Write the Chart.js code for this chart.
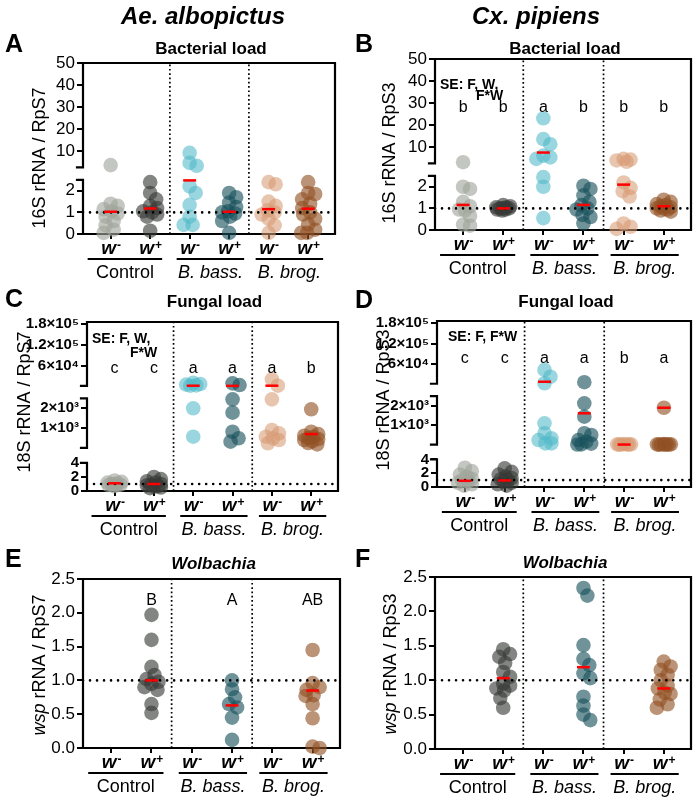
<!DOCTYPE html>
<html>
<head>
<meta charset="utf-8">
<title>Bacterial, fungal and Wolbachia loads</title>
<script src="https://cdn.jsdelivr.net/npm/chart.js"></script>
<style>
  html, body { margin: 0; padding: 0; background: #fff; }
  #fig { position: relative; width: 700px; height: 802px; overflow: hidden; }
  #fig canvas { position: absolute; }
</style>
</head>
<body>
<div id="fig"></div>
<script>
// ---- values ----
const groups = ['Control', 'B. bass.', 'B. brog.'];
const wSign = ['-', '+', '-', '+', '-', '+'];

// A: Ae. albopictus, 16S rRNA / RpS7 (order: Control w-, w+, B. bass w-, w+, B. brog w-, w+)
const bactAe = [
  [3.5, 1.4, 1.3, 1.15, 1.05, 0.95, 0.8, 0.6, 0.4, 0.2, 0.05],
  [2.4, 1.9, 1.6, 1.3, 1.2, 1.05, 1.0, 0.9, 0.8, 0.15],
  [9.1, 4.5, 3.2, 2.2, 1.9, 1.35, 0.8, 0.42, 0.42],
  [1.9, 1.7, 1.45, 1.25, 1.05, 1.0, 0.95, 0.8, 0.6, 0.05],
  [2.4, 2.3, 1.5, 1.3, 1.1, 1.0, 0.9, 0.7, 0.4, 0.05],
  [2.4, 1.9, 1.85, 1.6, 1.4, 1.2, 1.0, 0.9, 0.7, 0.45, 0.2, 0.05, 0.05]
];
const bactAeMean = [1.03, 1.18, 2.48, 1.03, 1.15, 1.17];

// B: Cx. pipiens, 16S rRNA / RpS3
const bactCx = [
  [3.0, 2.0, 1.9, 1.3, 1.1, 0.95, 0.9, 0.65, 0.25, 0.2],
  [1.15, 1.1, 1.05, 1.05, 1.0, 1.0, 1.0, 0.95, 0.95, 0.9],
  [23, 13.5, 11.2, 6, 5.2, 4.5, 2.45, 2.0, 0.55],
  [2.05, 1.9, 1.6, 1.3, 1.15, 1.0, 0.95, 0.7, 0.6, 0.3],
  [4.5, 4.2, 3.8, 3.2, 2.2, 1.95, 1.8, 1.55, 0.3, 0.15, 0.05],
  [1.4, 1.3, 1.2, 1.15, 1.1, 1.05, 1.0, 1.0, 0.95, 0.9, 0.85]
];
const bactCxMean = [1.16, 1.0, 7.4, 1.16, 2.1, 1.1];
const bactCxLetters = ['b', 'b', 'a', 'b', 'b', 'b'];

// C: Ae. albopictus, 18S rRNA / RpS7
const fungAe = [
  [1.5, 1.3, 1.2, 1.1, 1.0, 1.0, 0.9, 0.85, 0.8, 0.7],
  [2.0, 1.7, 1.4, 1.2, 1.0, 0.9, 0.8, 0.7, 0.6, 0.5, 0.4],
  [11000, 8000, 6000, 4000, 3000, 2000, 570],
  [9800, 4900, 2450, 1780, 820, 490, 320],
  [21400, 3000, 2450, 910, 740, 570, 485, 400, 235],
  [1950, 820, 700, 620, 560, 500, 450, 400, 330, 250, 180]
];
const fungAeMean = [1.1, 1.0, 3000, 2600, 3000, 700];
const fungAeLetters = ['c', 'c', 'a', 'a', 'a', 'b'];

// D: Cx. pipiens, 18S rRNA / RpS3
const fungCx = [
  [2.8, 2.3, 1.8, 1.5, 1.2, 1.0, 0.8, 0.6, 0.4, 0.2],
  [2.7, 2.2, 1.8, 1.5, 1.3, 1.1, 1.0, 0.8, 0.6, 0.4, 0.2],
  [43000, 23000, 4000, 1100, 590, 330, 240, 70, 70],
  [7000, 2125, 1440, 590, 500, 240, 160, 60, 20, 10],
  [30, 25, 20, 15, 10, 8, 6],
  [1900, 30, 25, 20, 15, 10, 8, 6, 5]
];
const fungCxMean = [0.9, 0.95, 8300, 1614, 10, 1900];
const fungCxLetters = ['c', 'c', 'a', 'a', 'b', 'a'];

// E: Ae. albopictus, wsp rRNA / RpS7
const wolAe = [
  [],
  [1.97, 1.6, 1.2, 1.08, 1.02, 0.98, 0.95, 0.9, 0.86, 0.65, 0.52],
  [],
  [1.0, 0.87, 0.75, 0.65, 0.6, 0.45, 0.12],
  [],
  [1.45, 0.96, 0.9, 0.86, 0.78, 0.77, 0.65, 0.44, 0.02, 0.0]
];
const wolAeMean = [null, 1.0, null, 0.63, null, 0.85];
const wolAeLetters = ['', 'B', '', 'A', '', 'AB'];

// F: Cx. pipiens, wsp rRNA / RpS3
const wolCx = [
  [],
  [1.45, 1.38, 1.34, 1.25, 1.12, 1.05, 0.95, 0.92, 0.88, 0.85, 0.74, 0.6],
  [],
  [2.34, 2.23, 1.51, 1.31, 1.22, 1.1, 1.03, 0.76, 0.63, 0.5, 0.42],
  [],
  [1.27, 1.2, 1.15, 1.08, 1.0, 0.92, 0.88, 0.82, 0.8, 0.72, 0.65, 0.6]
];
const wolCxMean = [null, 1.03, null, 1.19, null, 0.88];

// tick values / labels
const bactTicks = [0, 1, 2, 10, 20, 30, 40, 50];
const fungTicks = [0, 2, 4, 1000, 2000, 60000, 120000, 180000];
const fungTickLabels = ['0', '2', '4', '1×10³', '2×10³', '6×10⁴', '1.2×10⁵', '1.8×10⁵'];

// ---- look ----
const FF = "'Liberation Sans', Arial, sans-serif";
Chart.defaults.font.family = FF;
Chart.defaults.color = '#000';

const fills = [
  'rgba(160,165,155,0.62)', 'rgba(55,58,55,0.62)',
  'rgba(80,185,200,0.58)', 'rgba(25,80,92,0.62)',
  'rgba(215,155,115,0.58)', 'rgba(145,80,35,0.62)'
];

// broken y axes: value ranges and where they sit (fraction of plot height)
const SEGS = {
  bact: [{ min: 0, max: 2.5, from: 0, to: 0.316 }, { min: 2.5, max: 50, from: 0.39, to: 1 }],
  fung: [{ min: 0, max: 4, from: 0, to: 0.166 }, { min: 4, max: 2500, from: 0.255, to: 0.548 },
         { min: 2500, max: 180000, from: 0.622, to: 0.988 }]
};
const TICKS = { bact: bactTicks, fung: fungTicks };

function segFrac(v, segs) {
  const s = segs.find(s => v <= s.max) || segs[segs.length - 1];
  return s.from + (v - s.min) / (s.max - s.min) * (s.to - s.from);
}

class BrokenScale extends Chart.LinearScale {
  static id = 'broken';
  static defaults = {};
  buildTicks() {
    return TICKS[this.options.segKey].map(value => ({ value }));
  }
  getPixelForValue(value) {
    return this.bottom - segFrac(value, SEGS[this.options.segKey]) * (this.bottom - this.top);
  }
  getValueForPixel() { return 0; }
}
Chart.register(BrokenScale);

const XMIN = 0.3, XMAX = 6.68;

const panels = [
  { key: 'A', box: [0, 0, 350, 292], area: { l: 83, r: 335, t: 63, b: 234 }, axis: 'bact',
    pts: bactAe, mean: bactAeMean, letters: null, lettersY: 0,
    title: 'Bacterial load', titleY: 54, yLab: ['', '16S rRNA / RpS7'], yLabAt: [40, 158],
    head: ['Ae. albopictus', 203], letterAt: [5, 52], se: [] },
  { key: 'B', box: [350, 0, 350, 292], area: { l: 435, r: 693, t: 59, b: 230 }, axis: 'bact',
    pts: bactCx, mean: bactCxMean, letters: bactCxLetters, lettersY: 112,
    title: 'Bacterial load', titleY: 54, yLab: ['', '16S rRNA / RpS3'], yLabAt: [390, 153],
    head: ['Cx. pipiens', 536], letterAt: [355, 52], se: [['SE: F, W,', 440, 89], ['F*W', 476, 100]] },
  { key: 'C', box: [0, 280, 350, 262], area: { l: 87, r: 338, t: 322, b: 491 }, axis: 'fung',
    pts: fungAe, mean: fungAeMean, letters: fungAeLetters, lettersY: 373,
    title: 'Fungal load', titleY: 307, yLab: ['', '18S rRNA / RpS7'], yLabAt: [25, 402],
    head: null, letterAt: [5, 307], se: [['SE: F, W,', 92, 343], ['F*W', 130, 357]] },
  { key: 'D', box: [350, 280, 350, 262], area: { l: 437, r: 693, t: 321, b: 487 }, axis: 'fung',
    pts: fungCx, mean: fungCxMean, letters: fungCxLetters, lettersY: 363,
    title: 'Fungal load', titleY: 307, yLab: ['', '18S rRNA / RpS3'], yLabAt: [384, 400],
    head: null, letterAt: [355, 308], se: [['SE: F, F*W', 448, 341]] },
  { key: 'E', box: [0, 538, 350, 264], area: { l: 83, r: 340, t: 579, b: 748 }, axis: 'wol',
    pts: wolAe, mean: wolAeMean, letters: wolAeLetters, lettersY: 605,
    title: 'Wolbachia', titleY: 569, yLab: ['wsp', ' rRNA / RpS7'], yLabAt: [40, 665],
    head: null, letterAt: [5, 567], se: [] },
  { key: 'F', box: [350, 538, 350, 264], area: { l: 435, r: 697, t: 577, b: 749 }, axis: 'wol',
    pts: wolCx, mean: wolCxMean, letters: null, lettersY: 0,
    title: 'Wolbachia', titleY: 568, yLab: ['wsp', ' rRNA / RpS3'], yLabAt: [391, 664],
    head: null, letterAt: [355, 567], se: [] }
];

// simple beeswarm: horizontal offsets in pixels so circles don't pile up
function swarm(vals, yOf, minD, cap) {
  const placed = [];
  return vals.map(v => {
    const y = yOf(v);
    let best = 0, bestD = -1;
    for (let k = 0; k <= 2 * cap; k++) {
      const dx = (k % 2 ? 1 : -1) * Math.ceil(k / 2);
      const d = placed.reduce((m, p) => Math.min(m, Math.hypot(p.x - dx, p.y - y)), Infinity);
      if (d >= minD) { best = dx; break; }
      if (d > bestD) { bestD = d; best = dx; }
    }
    placed.push({ x: best, y });
    return best;
  });
}

function drawFrame(chart, p) {
  const { ctx, chartArea: a } = chart;
  const H = a.bottom - a.top;
  ctx.save();
  ctx.strokeStyle = '#000';
  ctx.lineWidth = 2.2;
  ctx.lineCap = 'square';
  ctx.beginPath();
  ctx.moveTo(a.left, a.top); ctx.lineTo(a.right, a.top);
  ctx.lineTo(a.right, a.bottom); ctx.lineTo(a.left, a.bottom);
  const segs = SEGS[p.axis];
  if (!segs) {
    ctx.moveTo(a.left, a.bottom); ctx.lineTo(a.left, a.top);
  } else {
    segs.forEach((s, i) => {
      const yb = a.bottom - s.from * H;
      const yt = i === segs.length - 1 ? a.top : a.bottom - s.to * H;
      ctx.moveTo(a.left, yb); ctx.lineTo(a.left, yt);
      if (i > 0) { ctx.moveTo(a.left - 6, yb); ctx.lineTo(a.left, yb); }
      if (i < segs.length - 1) { ctx.moveTo(a.left - 6, yt); ctx.lineTo(a.left, yt); }
    });
  }
  ctx.stroke();
  ctx.restore();
}

function drawText(chart, p) {
  const { ctx, chartArea: a, scales: { x: xs } } = chart;
  const ox = p.box[0], oy = p.box[1];
  const cb = a.bottom;
  ctx.save();
  ctx.fillStyle = '#000';
  ctx.textBaseline = 'alphabetic';

  if (p.head) {
    ctx.font = `italic bold 24px ${FF}`;
    ctx.textAlign = 'center';
    ctx.fillText(p.head[0], p.head[1] - ox, 24 - oy);
  }
  ctx.font = `bold 25px ${FF}`;
  ctx.textAlign = 'left';
  ctx.fillText(p.key, p.letterAt[0] - ox, p.letterAt[1] - oy);

  ctx.font = (p.axis === 'wol' ? 'italic ' : '') + `bold 17px ${FF}`;
  ctx.textAlign = 'center';
  ctx.fillText(p.title, (a.left + a.right) / 2 + 2, p.titleY - oy);

  // y axis title, rotated, with optional italic prefix
  ctx.save();
  ctx.translate(p.yLabAt[0] - ox, p.yLabAt[1] - oy);
  ctx.rotate(-Math.PI / 2);
  ctx.textBaseline = 'middle';
  ctx.textAlign = 'left';
  const fonts = [`italic 18px ${FF}`, `18px ${FF}`];
  const widths = p.yLab.map((t, i) => { ctx.font = fonts[i]; return ctx.measureText(t).width; });
  let tx = -(widths[0] + widths[1]) / 2;
  p.yLab.forEach((t, i) => { ctx.font = fonts[i]; ctx.fillText(t, tx, 0); tx += widths[i]; });
  ctx.restore();

  ctx.font = `bold 14px ${FF}`;
  ctx.textAlign = 'left';
  p.se.forEach(([t, x, y]) => ctx.fillText(t, x - ox, y - oy));

  if (p.letters) {
    ctx.font = `16px ${FF}`;
    ctx.textAlign = 'center';
    p.letters.forEach((t, i) => ctx.fillText(t, xs.getPixelForValue(i + 1), p.lettersY - oy));
  }

  // x labels: w with superscript sign
  wSign.forEach((s, i) => {
    const cx = xs.getPixelForValue(i + 1);
    ctx.font = `italic bold 19px ${FF}`;
    const ww = ctx.measureText('w').width;
    ctx.font = `bold 12px ${FF}`;
    const sw = ctx.measureText(s).width;
    const x0 = cx - (ww + sw) / 2;
    ctx.textAlign = 'left';
    ctx.font = `italic bold 19px ${FF}`;
    ctx.fillText('w', x0, cb + 20);
    ctx.font = `bold 12px ${FF}`;
    ctx.fillText(s, x0 + ww + 1, cb + 15);
  });

  // group underlines and names
  groups.forEach((g, i) => {
    const x1 = xs.getPixelForValue(2 * i + 1) - (i === 0 ? 23 : 13);
    const x2 = xs.getPixelForValue(2 * i + 2) + (i === 0 ? 12 : 15);
    ctx.lineWidth = 2;
    ctx.strokeStyle = '#000';
    ctx.beginPath();
    ctx.moveTo(x1, cb + 25); ctx.lineTo(x2, cb + 25);
    ctx.stroke();
    ctx.font = (i > 0 ? 'italic ' : '') + `18px ${FF}`;
    ctx.textAlign = 'center';
    ctx.fillText(g, (x1 + x2) / 2, cb + 44);
  });
  ctx.restore();
}

const fig = document.getElementById('fig');

panels.forEach(p => {
  const [left, top, W, H] = p.box;
  const cv = document.createElement('canvas');
  cv.width = W; cv.height = H;
  cv.style.left = left + 'px'; cv.style.top = top + 'px';
  cv.style.width = W + 'px'; cv.style.height = H + 'px';
  fig.appendChild(cv);

  const area = { l: p.area.l - left, r: p.area.r - left, t: p.area.t - top, b: p.area.b - top };
  const plotH = area.b - area.t;
  const pxPerX = (area.r - area.l) / (XMAX - XMIN);
  const broken = p.axis !== 'wol';
  const yOf = broken ? v => segFrac(v, SEGS[p.axis]) * plotH : v => v / 2.5 * plotH;
  const yTop = broken ? (p.axis === 'bact' ? 50 : 186000) : 2.5;

  const datasets = [];
  p.pts.forEach((vals, i) => {
    const dx = swarm(vals, yOf, 8.5, 7);
    datasets.push({
      type: 'scatter',
      data: vals.map((v, k) => ({ x: i + 1 + dx[k] / pxPerX, y: v })),
      backgroundColor: fills[i], borderWidth: 0,
      pointRadius: 7.3, pointHoverRadius: 7.3, clip: false, order: 3
    });
  });
  datasets.push({
    type: 'scatter',
    data: p.mean.map((m, i) => (m == null ? null : { x: i + 1, y: m })).filter(Boolean),
    pointStyle: 'line', pointRadius: 6.5, borderColor: '#ff0000', borderWidth: 2.5, order: 0
  });
  datasets.push({
    type: 'line', data: [{ x: XMIN, y: 1 }, { x: XMAX, y: 1 }],
    borderColor: '#000', borderWidth: 2.6, borderDash: [0.01, 7], borderCapStyle: 'round',
    pointRadius: 0, order: 1
  });
  [2.5, 4.5].forEach(x => datasets.push({
    type: 'line', data: [{ x, y: 0 }, { x, y: yTop }],
    borderColor: '#000', borderWidth: 1.7, borderDash: [1.7, 2.6],
    pointRadius: 0, order: 1
  }));

  const yScale = broken ? {
    type: 'broken', segKey: p.axis, min: 0, max: yTop,
    afterFit: s => { s.width = area.l; },
    ticks: {
      autoSkip: false, padding: 2, color: '#000',
      font: p.axis === 'fung' ? { size: 15, weight: 'bold' } : { size: 17 },
      callback: v => (p.axis === 'fung' ? fungTickLabels[fungTicks.indexOf(v)] : String(v))
    },
    grid: { drawOnChartArea: false, tickLength: 6, color: '#000', lineWidth: 2 },
    border: { display: false }
  } : {
    type: 'linear', min: 0, max: 2.5,
    afterFit: s => { s.width = area.l; },
    ticks: { stepSize: 0.5, padding: 2, color: '#000', font: { size: 17 }, callback: v => v.toFixed(1) },
    grid: { drawOnChartArea: false, tickLength: 6, color: '#000', lineWidth: 2 },
    border: { display: false }
  };

  new Chart(cv, {
    type: 'scatter',
    data: { datasets },
    options: {
      responsive: false,
      animation: false,
      events: [],
      layout: { padding: { left: 0, right: W - area.r, top: area.t, bottom: H - area.b } },
      plugins: { legend: { display: false }, tooltip: { enabled: false }, title: { display: false } },
      scales: {
        x: {
          type: 'linear', min: XMIN, max: XMAX,
          afterBuildTicks: s => { s.ticks = wSign.map((_, i) => ({ value: i + 1 })); },
          afterFit: s => { s.height = 0; },
          ticks: { display: false },
          grid: { drawOnChartArea: false, tickLength: 5, color: '#000', lineWidth: 2 },
          border: { display: false }
        },
        y: yScale
      }
    },
    plugins: [{
      id: 'decor',
      beforeDatasetsDraw: chart => drawFrame(chart, p),
      afterDraw: chart => drawText(chart, p)
    }]
  });
});
</script>
</body>
</html>
